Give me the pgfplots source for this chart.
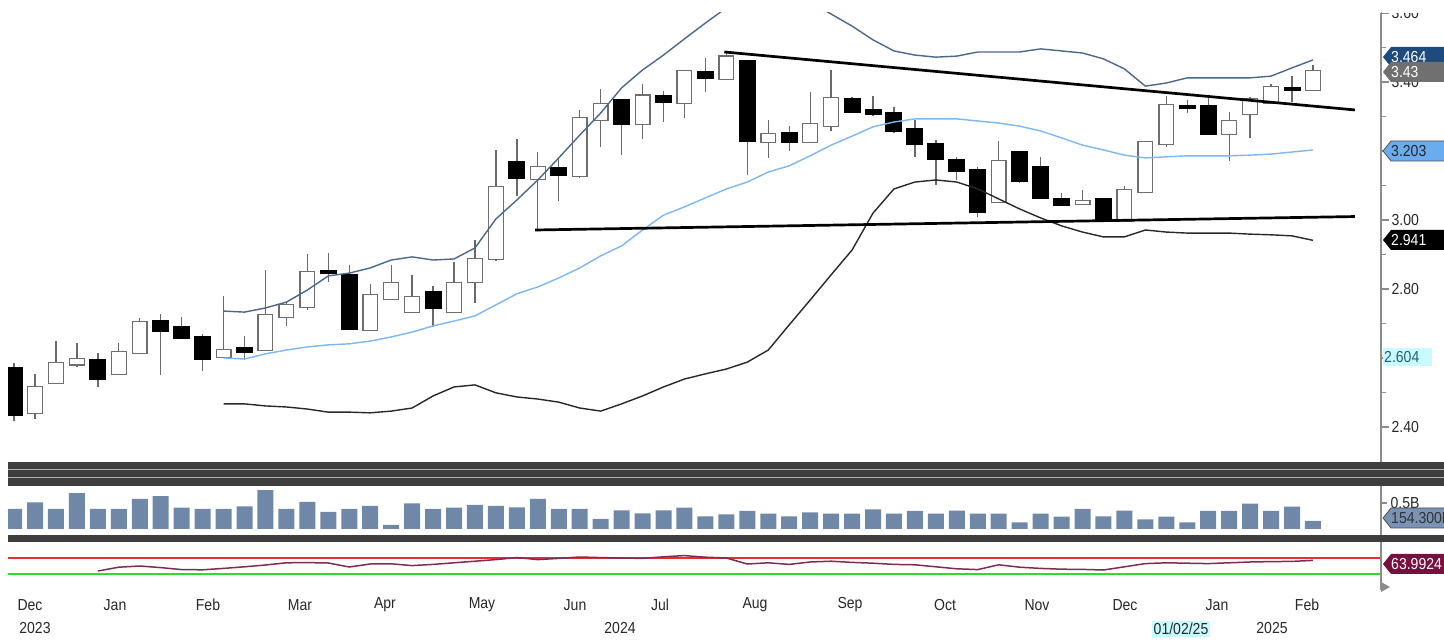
\documentclass[border=0pt]{standalone}
\usepackage{pgfplots}
\pgfplotsset{compat=1.18}
\usepackage{pgfplotstable}
\usepackage{fontspec}
\setmainfont{Liberation Sans}[FakeStretch=0.88]

\definecolor{upblue}{RGB}{74,104,140}
\definecolor{midblue}{RGB}{125,183,242}
\definecolor{lowgray}{RGB}{40,40,40}
\definecolor{wickgray}{RGB}{105,105,105}
\definecolor{bodygray}{RGB}{110,110,110}
\definecolor{volblue}{RGB}{112,136,168}
\definecolor{rsimaroon}{RGB}{125,45,85}
\definecolor{rsired}{RGB}{235,45,45}
\definecolor{rsigreen}{RGB}{45,220,45}
\definecolor{sepgray}{RGB}{62,62,62}
\definecolor{axisgray}{RGB}{140,140,140}
\definecolor{labelgray}{RGB}{40,40,40}
\definecolor{tagdark}{RGB}{30,75,125}
\definecolor{taggray}{RGB}{112,112,112}
\definecolor{taglight}{RGB}{105,172,240}
\definecolor{tagcyan}{RGB}{200,250,255}
\definecolor{tagvol}{RGB}{122,146,180}
\definecolor{tagrsi}{RGB}{120,15,60}

% rising (white) weeks: open high low close
\pgfplotstableread{
i o h l c
1 2.443 2.554 2.423 2.513
2 2.530 2.649 2.530 2.583
3 2.585 2.643 2.574 2.594
5 2.557 2.643 2.557 2.614
6 2.617 2.716 2.617 2.701
10 2.606 2.780 2.606 2.620
12 2.626 2.855 2.620 2.722
13 2.722 2.765 2.693 2.751
14 2.751 2.901 2.739 2.846
17 2.684 2.814 2.684 2.780
18 2.774 2.870 2.774 2.814
19 2.736 2.841 2.736 2.774
21 2.736 2.878 2.730 2.814
22 2.823 2.942 2.759 2.884
23 2.890 3.203 2.880 3.093
25 3.122 3.197 2.971 3.151
27 3.130 3.319 3.122 3.293
28 3.293 3.380 3.212 3.333
30 3.281 3.394 3.235 3.357
32 3.342 3.429 3.296 3.429
34 3.412 3.487 3.406 3.470
36 3.229 3.290 3.180 3.246
38 3.229 3.371 3.229 3.275
39 3.275 3.435 3.258 3.351
47 3.055 3.229 3.055 3.168
51 3.049 3.087 3.049 3.052
53 3.000 3.099 3.000 3.084
54 3.084 3.226 3.084 3.223
55 3.223 3.360 3.212 3.330
58 3.252 3.313 3.171 3.284
59 3.310 3.357 3.238 3.348
60 3.342 3.394 3.342 3.383
62 3.380 3.449 3.380 3.429
}\upw

% falling (black) weeks: open high low close
\pgfplotstableread{
i o h l c
0 2.571 2.586 2.417 2.435
4 2.594 2.614 2.516 2.539
7 2.707 2.728 2.551 2.678
8 2.690 2.719 2.658 2.658
9 2.661 2.670 2.562 2.597
11 2.629 2.664 2.594 2.617
15 2.852 2.904 2.820 2.846
16 2.841 2.870 2.684 2.684
20 2.791 2.809 2.690 2.745
24 3.168 3.235 3.070 3.122
26 3.151 3.180 3.055 3.130
29 3.348 3.348 3.188 3.278
31 3.359 3.374 3.284 3.342
33 3.429 3.470 3.371 3.412
35 3.461 3.461 3.130 3.229
37 3.252 3.272 3.200 3.226
40 3.351 3.357 3.313 3.313
41 3.319 3.360 3.301 3.307
42 3.310 3.328 3.252 3.258
43 3.264 3.290 3.183 3.220
44 3.220 3.232 3.101 3.177
45 3.174 3.183 3.116 3.142
46 3.145 3.154 3.009 3.023
48 3.197 3.197 3.107 3.113
49 3.154 3.183 3.064 3.064
50 3.061 3.078 3.043 3.043
52 3.061 3.061 3.000 3.000
56 3.330 3.348 3.310 3.325
57 3.330 3.362 3.249 3.249
61 3.383 3.417 3.342 3.377
}\downw

\pgfplotstableread{
i up mid lo
10 2.736 2.600 2.467
11 2.733 2.597 2.467
12 2.745 2.612 2.461
13 2.762 2.623 2.458
14 2.797 2.632 2.452
15 2.838 2.638 2.443
16 2.846 2.641 2.443
17 2.861 2.649 2.441
18 2.884 2.661 2.446
19 2.893 2.675 2.455
20 2.884 2.693 2.490
21 2.887 2.707 2.516
22 2.919 2.722 2.522
23 3.003 2.754 2.499
24 3.058 2.786 2.487
25 3.116 2.806 2.481
26 3.180 2.832 2.472
27 3.246 2.861 2.455
28 3.310 2.896 2.446
29 3.383 2.925 2.467
30 3.435 2.971 2.490
31 3.478 3.014 2.516
32 3.525 3.038 2.539
33 3.571 3.064 2.554
34 3.615 3.090 2.568
35 3.660 3.110 2.588
36 3.670 3.139 2.623
37 3.660 3.157 2.696
38 3.630 3.186 2.768
39 3.597 3.217 2.841
40 3.562 3.243 2.913
41 3.522 3.270 3.020
42 3.490 3.284 3.090
43 3.478 3.293 3.110
44 3.472 3.293 3.116
45 3.475 3.293 3.110
46 3.487 3.287 3.090
47 3.487 3.281 3.061
48 3.487 3.272 3.032
49 3.496 3.258 3.006
50 3.490 3.238 2.983
51 3.484 3.217 2.965
52 3.467 3.203 2.951
53 3.438 3.188 2.951
54 3.388 3.180 2.971
55 3.397 3.183 2.965
56 3.412 3.186 2.962
57 3.412 3.186 2.962
58 3.412 3.186 2.962
59 3.412 3.188 2.959
60 3.417 3.191 2.957
61 3.441 3.197 2.954
62 3.464 3.203 2.941
}\bands

\pgfplotstableread{
i v
0 386
1 514
2 386
3 688
4 386
5 386
6 579
7 630
8 412
9 386
10 386
11 437
12 746
13 386
14 521
15 328
16 386
17 444
18 77
19 495
20 386
21 412
22 463
23 444
24 418
25 579
26 386
27 386
28 193
29 360
30 302
31 360
32 412
33 244
34 283
35 347
36 296
37 244
38 322
39 296
40 296
41 379
42 296
43 347
44 296
45 354
46 296
47 296
48 129
49 296
50 238
51 386
52 244
53 354
54 186
55 238
56 129
57 347
58 347
59 489
60 347
61 431
62 154.3
}\vol

\pgfplotstableread{
i r
4 37.5
5 47
6 50
7 46
8 41
9 40.5
10 44
11 48
12 52.5
13 58
14 58.5
15 57.5
16 47.5
17 55
18 55.5
19 51
20 54
21 58
22 62
23 66
24 71
25 66
26 69
27 72.5
28 71
29 70
30 69
31 73
32 76
33 72
34 70
35 55
36 58
37 54
38 60
39 62
40 59
41 57
42 54
43 53
44 48
45 43
46 41
47 53
48 47
49 44
50 42
51 41.5
52 40
53 48
54 56
55 58
56 57
57 56
58 58
59 60
60 61
61 61.5
62 64
}\rsi

\newcommand{\lblfont}{\fontsize{16}{16}\selectfont}
\newcommand{\pricetag}[4]{%
  \fill[#2] (1383bp,#1bp) -- (1391bp,#1bp+10bp) -- (1450bp,#1bp+10bp) -- (1450bp,#1bp-10bp) -- (1391bp,#1bp-10bp) -- cycle;
  \node[anchor=west, text=#3, font=\lblfont, inner sep=0pt] at (1391bp,#1bp) {#4};}

\pgfplotsset{
  bodybar/.style 2 args={only marks, mark=none, mark size=0pt, forget plot,
    error bars/.cd, y dir=both, y explicit, error mark=none,
    error bar style={draw=#1, line width=#2, line cap=butt}},
}

\begin{document}
\begin{tikzpicture}
\useasboundingbox (0bp,0bp) rectangle (1444bp,640bp);
\fill[white] (0bp,0bp) rectangle (1444bp,640bp);

% ---------- price panel ----------
\begin{axis}[at={(8bp,182bp)}, anchor=south west, scale only axis,
  width=1373bp, height=445bp,
  xmin=-0.29, xmax=65.25, ymin=2.3101, ymax=3.6,
  axis x line=none, axis y line*=right, axis line style={draw=none},
  ytick={2.4,2.6,2.8,3.0,3.2,3.4,3.6},
  yticklabels={2.40,,2.80,3.00,,3.40,3.60},
  minor ytick={2.5,2.7,2.9,3.1,3.3,3.5},
  tick align=outside, major tick length=8bp, minor tick length=5bp,
  every tick/.style={draw=axisgray, line width=1.2bp},
  major tick style={line width=2.2bp},
  yticklabel style={font=\lblfont, text=labelgray, xshift=-1bp},
]
% wicks
\addplot[bodybar={wickgray}{1.3bp}]
  table[x=i, y expr={(\thisrow{h}+\thisrow{l})/2}, y error expr={(\thisrow{h}-\thisrow{l})/2}] {\downw};
\addplot[bodybar={wickgray}{1.3bp}]
  table[x=i, y expr={(\thisrow{h}+\thisrow{l})/2}, y error expr={(\thisrow{h}-\thisrow{l})/2}] {\upw};
% black bodies
\addplot[bodybar={black}{17bp}]
  table[x=i, y expr={(\thisrow{o}+\thisrow{c})/2}, y error expr={(\thisrow{o}-\thisrow{c})/2+0.003}] {\downw};
% white bodies: outline then fill
\addplot[bodybar={bodygray}{16bp}]
  table[x=i, y expr={(\thisrow{o}+\thisrow{c})/2}, y error expr={(\thisrow{c}-\thisrow{o})/2+0.0068}] {\upw};
\addplot[bodybar={white}{13.4bp}]
  table[x=i, y expr={(\thisrow{o}+\thisrow{c})/2}, y error expr={(\thisrow{c}-\thisrow{o})/2+0.003}] {\upw};
% Bollinger bands
\addplot[upblue, line width=1.4bp, mark=none] table[x=i, y=up] {\bands};
\addplot[midblue, line width=1.4bp, mark=none] table[x=i, y=mid] {\bands};
\addplot[lowgray, line width=1.4bp, mark=none] table[x=i, y=lo] {\bands};
% trend lines
\addplot[black, line width=2.7bp, mark=none] coordinates {(33.9,3.487) (64.0,3.319)};
\addplot[black, line width=2.7bp, mark=none] coordinates {(24.87,2.971) (64.0,3.010)};
\end{axis}

% ---------- volume panel ----------
\begin{axis}[at={(8bp,109bp)}, anchor=south west, scale only axis,
  width=1373bp, height=41bp,
  xmin=-0.29, xmax=65.25, ymin=-38.5, ymax=750,
  axis x line=none, axis y line*=right, axis line style={draw=none},
  ytick={500}, yticklabels={0.5B},
  tick align=outside, major tick length=6bp,
  every tick/.style={draw=axisgray, line width=1.2bp},
  yticklabel style={font=\lblfont, text=labelgray},
]
\addplot[ybar, bar width=16bp, bar shift=0pt, fill=volblue, draw=none] table[x=i, y=v] {\vol};
\end{axis}

% ---------- RSI panel ----------
\begin{axis}[at={(8bp,60bp)}, anchor=south west, scale only axis,
  width=1373bp, height=37bp,
  xmin=-0.29, xmax=65.25, ymin=15, ymax=107.5,
  axis lines=none,
]
\addplot[rsired, line width=1.6bp, mark=none] coordinates {(-0.29,70) (65.25,70)};
\addplot[rsigreen, line width=1.6bp, mark=none] coordinates {(-0.29,30) (65.25,30)};
\addplot[rsimaroon, line width=1.5bp, mark=none] table[x=i, y=r] {\rsi};
\end{axis}

% right axis line
\draw[axisgray, line width=1.2bp] (1381bp,627bp) -- (1381bp,50bp);
\fill[axisgray] (1381bp,48bp) -- (1390bp,53bp) -- (1381bp,58bp) -- cycle;

% panel separators
\fill[sepgray] (8bp,154bp) rectangle (1444bp,178bp);
\draw[gray!60, line width=1.2bp] (8bp,170.5bp) -- (1444bp,170.5bp);
\draw[gray!60, line width=1bp] (8bp,162bp) -- (1444bp,162bp);
\fill[sepgray] (8bp,98bp) rectangle (1444bp,105bp);

% cover top of clipped 3.60 label
\fill[white] (1382bp,627bp) rectangle (1444bp,640bp);

% value tags
\pricetag{583}{tagdark}{white}{3.464}
\pricetag{568}{taggray}{white}{3.43}
\pricetag{489}{taglight}{black!85}{3.203}
\draw[black!70, line width=0.8bp] (1383bp,489bp) -- (1391bp,499bp) -- (1450bp,499bp);
\draw[black!70, line width=0.8bp] (1383bp,489bp) -- (1391bp,479bp) -- (1450bp,479bp);
\pricetag{400}{black}{white}{2.941}
\fill[tagcyan] (1383bp,274bp) rectangle (1432bp,292bp);
\node[anchor=west, text={rgb,255:red,30;green,100;blue,120}, font=\lblfont, inner sep=0pt] at (1384bp,283bp) {2.604};
\pricetag{122}{tagvol}{black!80}{154.300M}
\draw[black!70, line width=0.8bp] (1383bp,122bp) -- (1391bp,132bp) -- (1450bp,132bp);
\draw[black!70, line width=0.8bp] (1383bp,122bp) -- (1391bp,112bp) -- (1450bp,112bp);
\pricetag{76}{tagrsi}{white}{63.9924}

% month labels
\begin{scope}[every node/.style={font=\lblfont, text=labelgray, inner sep=0pt}]
\node at (30bp,35bp) {Dec};
\node at (115bp,35bp) {Jan};
\node at (208bp,35bp) {Feb};
\node at (300bp,35bp) {Mar};
\node at (385bp,35bp) {Apr};
\node at (482bp,35bp) {May};
\node at (575bp,35bp) {Jun};
\node at (660bp,35bp) {Jul};
\node at (755bp,35bp) {Aug};
\node at (850bp,35bp) {Sep};
\node at (945bp,35bp) {Oct};
\node at (1037bp,35bp) {Nov};
\node at (1125bp,35bp) {Dec};
\node at (1217bp,35bp) {Jan};
\node at (1307bp,35bp) {Feb};
\node at (35bp,12bp) {2023};
\node at (620bp,12bp) {2024};
\node[fill=tagcyan, inner xsep=2bp, inner ysep=2bp] at (1181bp,11bp) {01/02/25};
\node at (1272bp,12bp) {2025};
\end{scope}
\end{tikzpicture}
\end{document}
